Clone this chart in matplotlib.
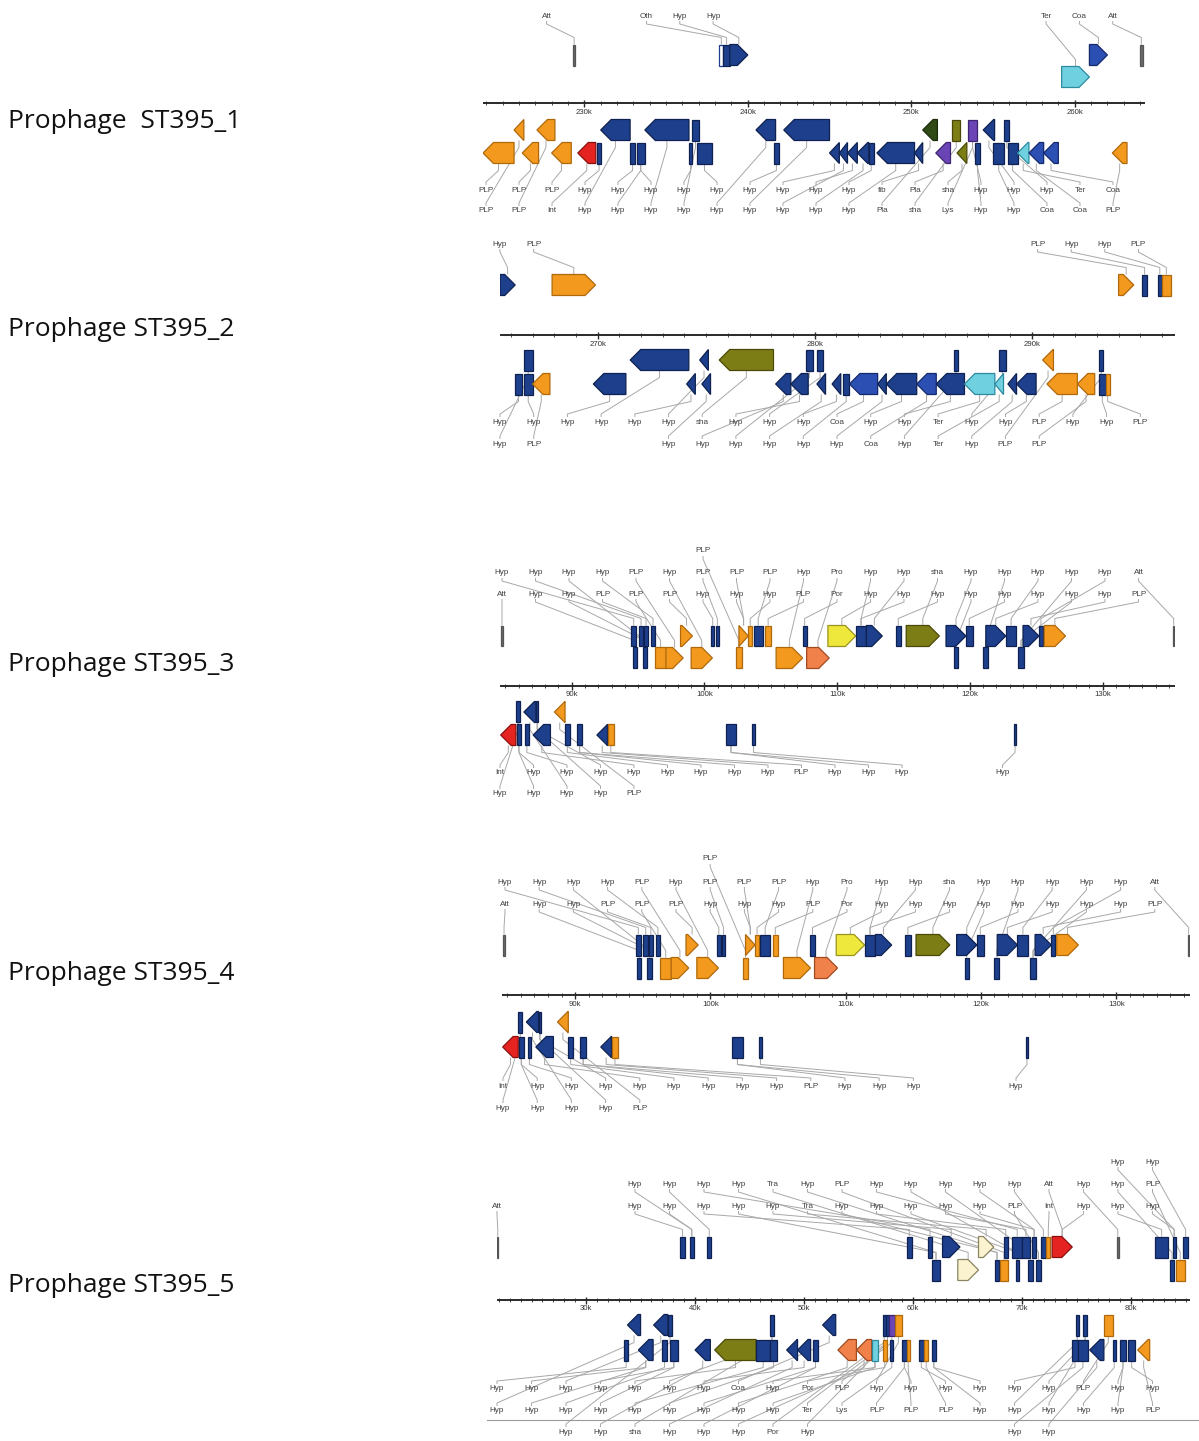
import numpy as np
import matplotlib
matplotlib.use("Agg")
import matplotlib.pyplot as plt
from matplotlib.patches import Polygon
from matplotlib.lines import Line2D

# ---------------- DATA ----------------
# genes: (start_kb, end_kb, strand, row, colour key)
P1_GENES = [
    (229.3, 229.45, 0, 'a1', 'A'), (238.26, 238.5, 0, 'a1', 'E'), (238.5, 238.9, 0, 'a1', 'B'),
    (238.9, 240.0, 1, 'a1', 'B'), (260.9, 262.0, 1, 'a1', 'L'), (264.0, 264.15, 0, 'a1', 'A'),
    (259.2, 260.9, 1, 'a2', 'C'),
    (225.7, 226.3, -1, 'b1', 'O'), (227.1, 228.2, -1, 'b1', 'O'), (231.0, 232.8, -1, 'b1', 'B'),
    (233.7, 236.4, -1, 'b1', 'B'), (236.6, 237.0, 0, 'b1', 'B'), (240.5, 241.7, -1, 'b1', 'B'),
    (242.2, 245.0, -1, 'b1', 'B'), (250.7, 251.6, -1, 'b1', 'D'), (252.5, 253.0, 0, 'b1', 'G'),
    (253.5, 254.0, 0, 'b1', 'P'), (254.4, 255.1, -1, 'b1', 'B'), (255.7, 256.0, 0, 'b1', 'B'),
    (223.8, 225.7, -1, 'b2', 'O'), (226.2, 227.2, -1, 'b2', 'O'), (228.0, 229.2, -1, 'b2', 'O'),
    (229.6, 230.7, -1, 'b2', 'R'), (230.8, 231.0, 0, 'b2', 'B'), (232.8, 233.1, 0, 'b2', 'B'),
    (233.2, 233.7, 0, 'b2', 'B'), (236.4, 236.6, 0, 'b2', 'B'), (236.9, 237.8, 0, 'b2', 'B'),
    (241.6, 241.9, 0, 'b2', 'B'), (245.0, 245.6, -1, 'b2', 'B'), (245.6, 246.1, -1, 'b2', 'B'),
    (246.1, 246.7, -1, 'b2', 'B'), (246.7, 247.4, -1, 'b2', 'B'), (247.4, 247.7, 0, 'b2', 'B'),
    (247.9, 250.2, -1, 'b2', 'B'), (250.2, 250.7, -1, 'b2', 'B'), (251.5, 252.4, -1, 'b2', 'P'),
    (252.8, 253.4, -1, 'b2', 'G'), (253.9, 254.2, 0, 'b2', 'B'), (255.0, 255.7, 0, 'b2', 'B'),
    (255.9, 256.5, 0, 'b2', 'B'), (256.5, 257.2, -1, 'b2', 'C'), (257.2, 258.1, -1, 'b2', 'L'),
    (258.1, 259.0, -1, 'b2', 'L'), (262.3, 263.2, -1, 'b2', 'O'),
]
P1_TOP_LABELS = [['', '', 'Att', '', '', 'Oth', 'Hyp', 'Hyp', '', '', '', '', '', '', '', '', '',
                  'Ter', 'Coa', 'Att']]
P1_BOTTOM_LABELS = [
    ['PLP', 'PLP', 'PLP', 'Hyp', 'Hyp', 'Hyp', 'Hyp', 'Hyp', 'Hyp', 'Hyp', 'Hyp', 'Hyp', 'fib',
     'Pla', 'sha', 'Hyp', 'Hyp', 'Hyp', 'Ter', 'Coa'],
    ['PLP', 'PLP', 'Int', 'Hyp', 'Hyp', 'Hyp', 'Hyp', 'Hyp', 'Hyp', 'Hyp', 'Hyp', 'Hyp', 'Pla',
     'sha', 'Lys', 'Hyp', 'Hyp', 'Coa', 'Coa', 'PLP'],
]

P2_GENES = [
    (265.5, 266.2, 1, 'a1', 'B'), (267.9, 269.9, 1, 'a1', 'O'), (294.0, 294.7, 1, 'a1', 'O'),
    (295.1, 295.3, 0, 'a1', 'B'), (295.8, 296.0, 0, 'a1', 'B'), (296.0, 296.4, 0, 'a1', 'O'),
    (266.6, 267.0, 0, 'b1', 'B'), (271.5, 274.2, -1, 'b1', 'B'), (274.7, 275.1, -1, 'b1', 'B'),
    (275.6, 278.1, -1, 'b1', 'G'), (279.6, 279.9, 0, 'b1', 'B'), (280.1, 280.4, 0, 'b1', 'B'),
    (286.4, 286.6, 0, 'b1', 'B'), (288.5, 288.8, 0, 'b1', 'B'), (290.5, 291.0, -1, 'b1', 'O'),
    (293.1, 293.3, 0, 'b1', 'B'),
    (266.2, 266.5, 0, 'b2', 'B'), (266.6, 267.0, 0, 'b2', 'B'), (267.0, 267.8, -1, 'b2', 'O'),
    (269.8, 271.3, -1, 'b2', 'B'), (274.1, 274.5, -1, 'b2', 'B'), (274.8, 275.2, -1, 'b2', 'B'),
    (278.2, 278.9, -1, 'b2', 'B'), (278.9, 279.7, -1, 'b2', 'B'), (280.1, 280.5, -1, 'b2', 'B'),
    (280.8, 281.2, -1, 'b2', 'B'), (281.3, 281.6, 0, 'b2', 'B'), (281.6, 282.9, -1, 'b2', 'L'),
    (282.9, 283.3, -1, 'b2', 'B'), (283.3, 284.7, -1, 'b2', 'B'), (284.7, 285.6, -1, 'b2', 'L'),
    (285.6, 286.9, -1, 'b2', 'B'), (286.9, 288.3, -1, 'b2', 'C'), (288.3, 288.7, -1, 'b2', 'C'),
    (288.9, 289.3, -1, 'b2', 'B'), (289.3, 290.2, -1, 'b2', 'B'), (290.7, 292.1, -1, 'b2', 'O'),
    (292.1, 292.9, -1, 'b2', 'O'), (293.1, 293.4, 0, 'b2', 'B'), (293.4, 293.6, 0, 'b2', 'O'),
]
P2_TOP_LABELS = [['Hyp', 'PLP'] + [''] * 14 + ['PLP', 'Hyp', 'Hyp', 'PLP']]
P2_BOTTOM_LABELS = [
    ['Hyp', 'Hyp', 'Hyp', 'Hyp', 'Hyp', 'Hyp', 'sha', 'Hyp', 'Hyp', 'Hyp', 'Coa', 'Hyp', 'Hyp',
     'Ter', 'Hyp', 'Hyp', 'PLP', 'Hyp', 'Hyp', 'PLP'],
    ['Hyp', 'PLP', '', '', '', 'Hyp', 'Hyp', 'Hyp', 'Hyp', 'Hyp', 'Hyp', 'Coa', 'Hyp', 'Ter',
     'Hyp', 'PLP', 'PLP'],
]

# prophages 3 and 4 carry the same gene layout
P34_GENES = [
    (84.7, 84.8, 0, 'a1', 'A'), (135.3, 135.4, 0, 'a1', 'A'),
    (94.5, 94.85, 0, 'a1', 'B'), (95.05, 95.4, 0, 'a1', 'B'), (95.45, 95.75, 0, 'a1', 'B'),
    (95.95, 96.3, 0, 'a1', 'B'), (98.2, 99.1, 1, 'a1', 'O'), (100.5, 100.75, 0, 'a1', 'B'),
    (100.85, 101.1, 0, 'a1', 'B'), (102.6, 103.3, 1, 'a1', 'O'), (103.3, 103.6, 0, 'a1', 'O'),
    (103.7, 104.4, 0, 'a1', 'B'), (104.6, 105.0, 0, 'a1', 'O'), (107.4, 107.7, 0, 'a1', 'B'),
    (109.3, 111.4, 1, 'a1', 'Y'), (111.4, 112.2, 0, 'a1', 'B'), (112.2, 113.4, 1, 'a1', 'B'),
    (114.4, 114.8, 0, 'a1', 'B'), (115.2, 117.7, 1, 'a1', 'G'), (118.2, 119.7, 1, 'a1', 'B'),
    (119.7, 120.2, 0, 'a1', 'B'), (121.2, 122.7, 1, 'a1', 'B'), (122.7, 123.5, 0, 'a1', 'B'),
    (124.0, 125.2, 1, 'a1', 'B'), (125.2, 125.5, 0, 'a1', 'B'), (125.6, 127.2, 1, 'a1', 'O'),
    (94.6, 94.9, 0, 'a2', 'B'), (95.35, 95.65, 0, 'a2', 'B'), (96.3, 97.1, 0, 'a2', 'O'),
    (97.1, 98.4, 1, 'a2', 'O'), (99.0, 100.6, 1, 'a2', 'O'), (102.4, 102.8, 0, 'a2', 'O'),
    (105.4, 107.4, 1, 'a2', 'O'), (107.7, 109.4, 1, 'a2', 'K'), (118.8, 119.1, 0, 'a2', 'B'),
    (121.0, 121.35, 0, 'a2', 'B'), (123.6, 124.1, 0, 'a2', 'B'),
    (85.8, 86.1, 0, 'b1', 'B'), (86.4, 87.3, -1, 'b1', 'B'), (87.3, 87.5, 0, 'b1', 'B'),
    (88.7, 89.5, -1, 'b1', 'O'),
    (84.65, 85.8, -1, 'b2', 'R'), (85.85, 86.2, 0, 'b2', 'B'), (86.5, 86.75, 0, 'b2', 'B'),
    (87.1, 88.4, -1, 'b2', 'B'), (89.5, 89.85, 0, 'b2', 'B'), (90.4, 90.8, 0, 'b2', 'B'),
    (91.9, 92.7, -1, 'b2', 'B'), (92.7, 93.2, 0, 'b2', 'O'), (101.6, 102.4, 0, 'b2', 'B'),
    (103.6, 103.8, 0, 'b2', 'B'), (123.3, 123.5, 0, 'b2', 'B'),
]
P34_TOP_LABELS = [
    [''] * 6 + ['PLP'],
    ['Hyp', 'Hyp', 'Hyp', 'Hyp', 'PLP', 'Hyp', 'PLP', 'PLP', 'PLP', 'Hyp', 'Pro', 'Hyp', 'Hyp',
     'sha', 'Hyp', 'Hyp', 'Hyp', 'Hyp', 'Hyp', 'Att'],
    ['Att', 'Hyp', 'Hyp', 'PLP', 'PLP', 'PLP', 'Hyp', 'Hyp', 'Hyp', 'PLP', 'Por', 'Hyp', 'Hyp',
     'Hyp', 'Hyp', 'Hyp', 'Hyp', 'Hyp', 'Hyp', 'PLP'],
]
P34_BOTTOM_LABELS = [
    ['Int', 'Hyp', 'Hyp', 'Hyp', 'Hyp', 'Hyp', 'Hyp', 'Hyp', 'Hyp', 'PLP', 'Hyp', 'Hyp', 'Hyp',
     '', '', 'Hyp'],
    ['Hyp', 'Hyp', 'Hyp', 'Hyp', 'PLP'],
]

P5_GENES = [
    (21.85, 21.95, 0, 'a1', 'A'), (38.6, 39.1, 0, 'a1', 'B'), (39.5, 39.9, 0, 'a1', 'B'),
    (41.1, 41.5, 0, 'a1', 'B'), (59.4, 59.9, 0, 'a1', 'B'), (61.4, 61.7, 0, 'a1', 'B'),
    (62.7, 64.3, 1, 'a1', 'B'), (66.0, 67.4, 1, 'a1', 'W'), (68.3, 68.7, 0, 'a1', 'B'),
    (69.1, 70.0, 0, 'a1', 'B'), (70.0, 70.7, 0, 'a1', 'B'), (70.9, 71.3, 0, 'a1', 'B'),
    (71.7, 72.2, 0, 'a1', 'B'), (72.2, 72.6, 0, 'a1', 'O'), (72.75, 74.6, 1, 'a1', 'R'),
    (78.7, 78.85, 0, 'a1', 'A'), (82.2, 83.4, 0, 'a1', 'B'), (83.8, 84.1, 0, 'a1', 'B'),
    (84.8, 85.2, 0, 'a1', 'B'),
    (61.7, 62.5, 0, 'a2', 'B'), (64.1, 66.0, 1, 'a2', 'W'), (67.5, 67.9, 0, 'a2', 'B'),
    (68.0, 68.7, 0, 'a2', 'O'), (69.4, 69.7, 0, 'a2', 'B'), (70.55, 71.0, 0, 'a2', 'B'),
    (71.3, 71.7, 0, 'a2', 'B'), (83.6, 83.9, 0, 'a2', 'B'), (84.1, 84.9, 0, 'a2', 'O'),
    (33.8, 35.0, -1, 'b1', 'B'), (36.2, 37.5, -1, 'b1', 'B'), (37.5, 37.9, 0, 'b1', 'B'),
    (46.9, 47.2, 0, 'b1', 'B'), (51.7, 52.9, -1, 'b1', 'B'), (57.2, 57.5, 0, 'b1', 'B'),
    (57.5, 57.8, 0, 'b1', 'B'), (57.8, 58.3, 0, 'b1', 'P'), (58.3, 59.0, 0, 'b1', 'O'),
    (74.9, 75.2, 0, 'b1', 'B'), (75.6, 75.95, 0, 'b1', 'B'), (77.5, 78.3, 0, 'b1', 'O'),
    (33.5, 33.85, 0, 'b2', 'B'), (34.8, 36.15, -1, 'b2', 'B'), (37.0, 37.4, 0, 'b2', 'B'),
    (37.7, 38.4, 0, 'b2', 'B'), (40.0, 41.4, -1, 'b2', 'B'), (41.8, 45.6, -1, 'b2', 'G'),
    (45.6, 46.9, 0, 'b2', 'B'), (46.9, 47.5, 0, 'b2', 'B'), (48.4, 49.4, -1, 'b2', 'B'),
    (49.4, 50.6, -1, 'b2', 'B'), (50.8, 51.3, 0, 'b2', 'B'), (53.1, 54.8, -1, 'b2', 'K'),
    (54.8, 56.2, -1, 'b2', 'K'), (56.2, 56.8, 0, 'b2', 'C'), (57.2, 57.6, 0, 'b2', 'O'),
    (57.9, 58.2, 0, 'b2', 'B'), (59.0, 59.4, 0, 'b2', 'B'), (59.4, 59.7, 0, 'b2', 'O'),
    (60.5, 61.0, 0, 'b2', 'B'), (61.0, 61.4, 0, 'b2', 'O'), (61.7, 62.1, 0, 'b2', 'B'),
    (74.6, 75.1, 0, 'b2', 'B'), (75.1, 76.05, 0, 'b2', 'B'), (76.2, 77.5, -1, 'b2', 'B'),
    (78.3, 78.6, 0, 'b2', 'B'), (79.0, 79.5, 0, 'b2', 'B'), (79.7, 80.4, 0, 'b2', 'B'),
    (80.6, 81.7, -1, 'b2', 'O'),
]
P5_TOP_LABELS = [
    [''] * 18 + ['Hyp', 'Hyp'],
    [''] * 4 + ['Hyp', 'Hyp', 'Hyp', 'Hyp', 'Tra', 'Hyp', 'PLP', 'Hyp', 'Hyp', 'Hyp', 'Hyp', 'Hyp',
                'Att', 'Hyp', 'Hyp', 'PLP'],
    ['Att', '', '', '', 'Hyp', 'Hyp', 'Hyp', 'Hyp', 'Hyp', 'Tra', 'Hyp', 'Hyp', 'Hyp', 'Hyp',
     'Hyp', 'PLP', 'Int', 'Hyp', 'Hyp', 'Hyp'],
]
P5_BOTTOM_LABELS = [
    ['Hyp', 'Hyp', 'Hyp', 'Hyp', 'Hyp', 'Hyp', 'Hyp', 'Coa', 'Hyp', 'Por', 'PLP', 'Hyp', 'Hyp',
     'Hyp', 'Hyp', 'Hyp', 'Hyp', 'PLP', 'Hyp', 'Hyp'],
    ['Hyp', 'Hyp', 'Hyp', 'Hyp', 'Hyp', 'Hyp', 'Hyp', 'Hyp', 'Hyp', 'Ter', 'Lys', 'PLP', 'PLP',
     'PLP', 'Hyp', 'Hyp', 'Hyp', 'Hyp', 'Hyp', 'PLP'],
    ['', '', 'Hyp', 'Hyp', 'sha', 'Hyp', 'Hyp', 'Hyp', 'Por', 'Hyp', '', '', '', '', '', 'Hyp', 'Hyp'],
]

PANEL_TITLES = ['Prophage  ST395_1', 'Prophage ST395_2', 'Prophage ST395_3',
                'Prophage ST395_4', 'Prophage ST395_5']

# ---------------- STYLE ----------------
COLORS = {
    'B': ('#1d3f8c', '#0e2150'), 'L': ('#2b4fb3', '#15296a'), 'O': ('#f39a1e', '#b0680c'),
    'R': ('#e52421', '#8a1010'), 'G': ('#7d7d16', '#4a4a08'), 'D': ('#2f4a15', '#1a2a0a'),
    'P': ('#6b45b5', '#3c2470'), 'C': ('#6fd0e0', '#2d8aa0'), 'Y': ('#eee83c', '#9a9320'),
    'K': ('#f1814a', '#a04a20'), 'W': ('#fbf3cf', '#8a8460'), 'A': ('#6a6a6a', '#555555'),
    'E': ('#ffffff', '#1d3f8c'),
}
LABEL_FONT = ['Liberation Sans', 'DejaVu Sans']
W, H = 1199, 1441

# layout per panel (pixel geometry)
PANELS = [
    dict(genes=P1_GENES, top=P1_TOP_LABELS, bottom=P1_BOTTOM_LABELS, box=(483, 1145, 0, 230),
         kb=(223.8, 264.3), ruler=103, rows=dict(a1=55, a2=77, b1=130, b2=153),
         top_grid=(480, 33.3, [16]), bottom_grid=(486, 33.0, [190, 211]), title_y=121),
    dict(genes=P2_GENES, top=P2_TOP_LABELS, bottom=P2_BOTTOM_LABELS, box=(500, 1175, 232, 455),
         kb=(265.5, 296.6), ruler=335, rows=dict(a1=285, a2=308, b1=360, b2=384),
         top_grid=(500, 33.6, [244]), bottom_grid=(500, 33.7, [422, 444]), title_y=329),
    dict(genes=P34_GENES, top=P34_TOP_LABELS, bottom=P34_BOTTOM_LABELS, box=(500, 1175, 540, 805),
         kb=(84.6, 135.45), ruler=686, rows=dict(a1=636, a2=658, b1=712, b2=735),
         top_grid=(502, 33.5, [551, 573, 594]), bottom_grid=(500, 33.5, [773, 794]), title_y=665),
    dict(genes=P34_GENES, top=P34_TOP_LABELS, bottom=P34_BOTTOM_LABELS, box=(502, 1190, 848, 1118),
         kb=(84.6, 135.45), ruler=995, rows=dict(a1=945, a2=968, b1=1022, b2=1047),
         top_grid=(505, 34.2, [859, 882, 904]), bottom_grid=(503, 34.2, [1086, 1108]), title_y=973),
    dict(genes=P5_GENES, top=P5_TOP_LABELS, bottom=P5_BOTTOM_LABELS, box=(497, 1190, 1150, 1441),
         kb=(21.83, 85.4), ruler=1300, rows=dict(a1=1247, a2=1270, b1=1325, b2=1350),
         top_grid=(497, 34.5, [1162, 1184, 1206]), bottom_grid=(497, 34.5, [1389, 1411, 1432]),
         title_y=1285),
]

HALF_H = 10.5
HEAD_PX = 10.5

fig = plt.figure(figsize=(W / 100, H / 100), dpi=100)
fig.patch.set_facecolor('white')


def draw_gene(ax, s, e, strand, y, ck, ppk):
    fc, ec = COLORS[ck]
    head = min(e - s, HEAD_PX / ppk)
    if strand == 1:
        xs = [s, e - head, e, e - head, s]
        ys = [y - HALF_H, y - HALF_H, y, y + HALF_H, y + HALF_H]
    elif strand == -1:
        xs = [e, s + head, s, s + head, e]
        ys = [y - HALF_H, y - HALF_H, y, y + HALF_H, y + HALF_H]
    else:
        xs = [s, e, e, s]
        ys = [y - HALF_H, y - HALF_H, y + HALF_H, y + HALF_H]
    ax.add_patch(Polygon(np.column_stack([xs, ys]), closed=True, facecolor=fc, edgecolor=ec,
                         linewidth=0.9, zorder=3, joinstyle='miter'))


def place_labels(ax, labels, grid, genes, rows, ppk, kb0, L, above):
    x0, dx, ys = grid
    items = []
    for r, row in enumerate(labels):
        for c, txt in enumerate(row):
            if txt:
                items.append((x0 + c * dx, ys[r], txt, r))
    if not items:
        return
    # nearer rows first at same column
    items.sort(key=lambda t: (t[0], -t[3] if above else t[3]))
    gs = sorted(genes, key=lambda g: (g[0] + g[1]) / 2)
    n, m = len(items), len(gs)
    for i, (lx, ly, txt, r) in enumerate(items):
        lxd = kb0 + (lx - L) / ppk
        ax.text(lxd, ly, txt, ha='center', va='center', fontsize=5.9, color='#404040',
                family=LABEL_FONT, zorder=5, clip_on=False)
        gi = int(round(i * (m - 1) / max(n - 1, 1)))
        g = gs[gi]
        gx = (g[0] + g[1]) / 2
        gy = rows[g[3]]
        if above:
            edge = gy - HALF_H
            pts_y = [ly + 5, ly + 8, edge - 7, edge]
        else:
            edge = gy + HALF_H
            pts_y = [ly - 5, ly - 8, edge + 7, edge]
        ax.plot([lxd, lxd, gx, gx], pts_y, color='#a8a8a8', lw=0.7, zorder=2,
                solid_capstyle='butt', clip_on=False)


for p, title in zip(PANELS, PANEL_TITLES):
    L, R, T, B = p['box']
    kb0, kb1 = p['kb']
    ax = fig.add_axes([L / W, 1 - B / H, (R - L) / W, (B - T) / H])
    ax.set_xlim(kb0, kb1)
    ax.set_ylim(B, T)
    ax.axis('off')
    ppk = (R - L) / (kb1 - kb0)
    ry = p['ruler']
    # ruler
    ax.plot([kb0, kb1], [ry, ry], color='#2a2a2a', lw=1.4, zorder=2, solid_capstyle='butt')
    minor = np.arange(np.ceil(kb0), np.floor(kb1) + 0.01, 1.0)
    ax.vlines(minor, ry - 2.2, ry + 2.2, color='#2a2a2a', lw=0.6, zorder=2)
    major = np.arange(np.ceil(kb0 / 10) * 10, kb1, 10.0)
    ax.vlines(major, ry - 3.5, ry + 4, color='#2a2a2a', lw=1.0, zorder=2)
    for mk in major:
        ax.text(mk, ry + 9, f'{int(mk)}k', ha='center', va='center', fontsize=5.6,
                color='#333333', family=LABEL_FONT)
    rows = p['rows']
    for g in p['genes']:
        draw_gene(ax, g[0], g[1], g[2], rows[g[3]], g[4], ppk)
    top_genes = [g for g in p['genes'] if g[3] in ('a1', 'a2')]
    bot_genes = [g for g in p['genes'] if g[3] in ('b1', 'b2')]
    place_labels(ax, p['top'], p['top_grid'], top_genes, rows, ppk, kb0, L, True)
    place_labels(ax, p['bottom'], p['bottom_grid'], bot_genes, rows, ppk, kb0, L, False)
    fig.text(8 / W, 1 - p['title_y'] / H, title, ha='left', va='center', fontsize=19,
             family=['Open Sans', 'DejaVu Sans'], color='#111111')

# thin separator near the bottom of the last panel
fig.add_artist(Line2D([487 / W, 1.0], [1 - 1420 / H, 1 - 1420 / H], color='#9a9a9a', lw=0.8))

fig.savefig('out.png', dpi=100, facecolor='white')
